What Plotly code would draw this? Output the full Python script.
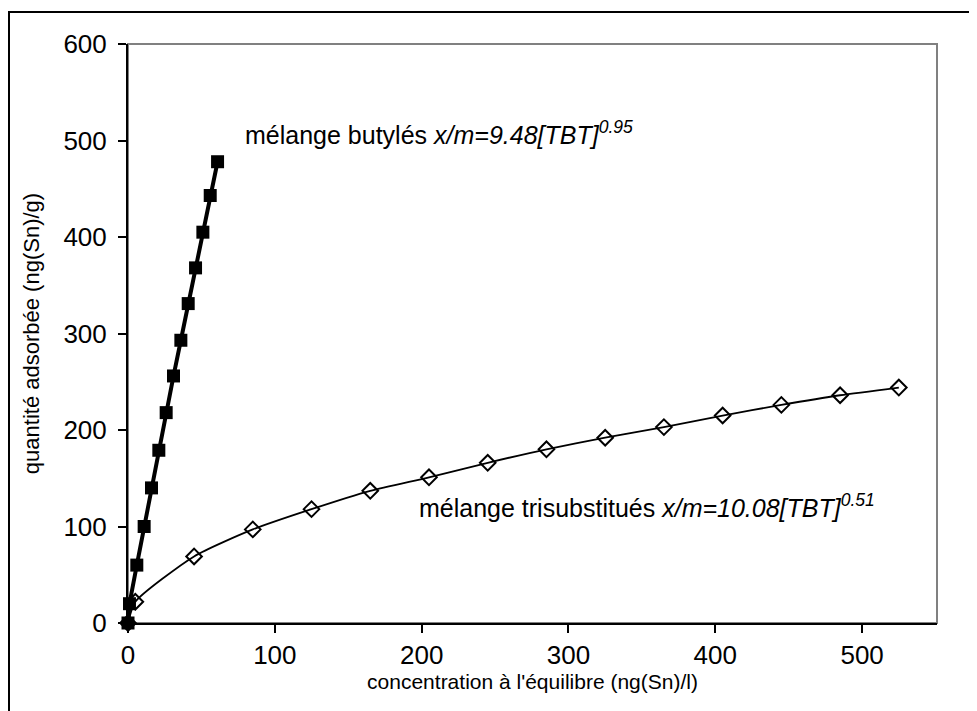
import plotly.graph_objects as go

# Data
butyl_x = [0, 1, 6, 11, 16, 21, 26, 31, 36, 41, 46, 51, 56, 61]
butyl_y = [0, 20, 60, 100, 140, 179, 218, 256, 293, 331, 368, 405, 443, 478]

tri_x = [0, 5, 45, 85, 125, 165, 205, 245, 285, 325, 365, 405, 445, 485, 525]
tri_y = [0, 22, 69, 97, 118, 137, 151, 166, 180, 192, 203, 215, 226, 236, 244]

x_ticks = [0, 100, 200, 300, 400, 500]
y_ticks = [0, 100, 200, 300, 400, 500, 600]

label_butyl = "mélange butylés <i>x/m=9.48[TBT]<sup>0.95</sup></i>"
label_tri = "mélange trisubstitués <i>x/m=10.08[TBT]<sup>0.51</sup></i>"
x_title = "concentration à l'équilibre (ng(Sn)/l)"
y_title = "quantité adsorbée (ng(Sn)/g)"

axis_font = "Liberation Sans, Arial, sans-serif"
text_font = "Liberation Sans, Arial, sans-serif"

fig = go.Figure()

fig.add_trace(go.Scatter(
    x=tri_x, y=tri_y, mode="lines+markers",
    line=dict(color="black", width=1.8, shape="spline", smoothing=0.6),
    marker=dict(symbol="diamond-open", size=12, color="black", line=dict(width=2)),
    cliponaxis=False, showlegend=False,
))
fig.add_trace(go.Scatter(
    x=butyl_x, y=butyl_y, mode="lines+markers",
    line=dict(color="black", width=4),
    marker=dict(symbol="square", size=13, color="black"),
    cliponaxis=False, showlegend=False,
))

fig.add_annotation(x=78.4, y=508, xref="x", yref="y", text=label_butyl,
                   showarrow=False, xanchor="left", yanchor="middle",
                   font=dict(family=text_font, size=25, color="black"))
fig.add_annotation(x=197, y=121, xref="x", yref="y", text=label_tri,
                   showarrow=False, xanchor="left", yanchor="middle",
                   font=dict(family=text_font, size=25, color="black"))

# plot-area border (gray) and outer chart border (black)
fig.add_shape(type="rect", xref="paper", yref="paper", x0=0, y0=0, x1=1, y1=1,
              line=dict(color="#808080", width=2), layer="below")
fig.add_shape(type="rect", xref="paper", yref="paper", x0=-0.1471, y0=-0.17, x1=1.07, y1=1.0553,
              line=dict(color="black", width=2), layer="below")

fig.update_layout(
    width=969, height=703,
    margin=dict(l=120, r=40, t=36, b=88),
    paper_bgcolor="white", plot_bgcolor="white",
    xaxis=dict(range=[0, 551], tickvals=x_ticks, ticktext=[str(v) for v in x_ticks],
               automargin=False,
               showline=True, linecolor="black", linewidth=2, mirror=False,
               ticks="outside", ticklen=8, tickwidth=2, tickcolor="black",
               showgrid=False, zeroline=False,
               tickfont=dict(family=axis_font, size=26, color="black"),
               title=dict(text=x_title, font=dict(family=axis_font, size=21, color="black"), standoff=4)),
    yaxis=dict(range=[0, 600], tickvals=y_ticks, ticktext=[str(v) for v in y_ticks],
               automargin=False,
               showline=True, linecolor="black", linewidth=2, mirror=False,
               ticks="outside", ticklen=8, tickwidth=2, tickcolor="black",
               ticklabelstandoff=6,
               showgrid=False, zeroline=False,
               tickfont=dict(family=axis_font, size=26, color="black"),
               title=dict(text=y_title, font=dict(family=axis_font, size=22, color="black"), standoff=18)),
)

fig.write_html("out.html")
